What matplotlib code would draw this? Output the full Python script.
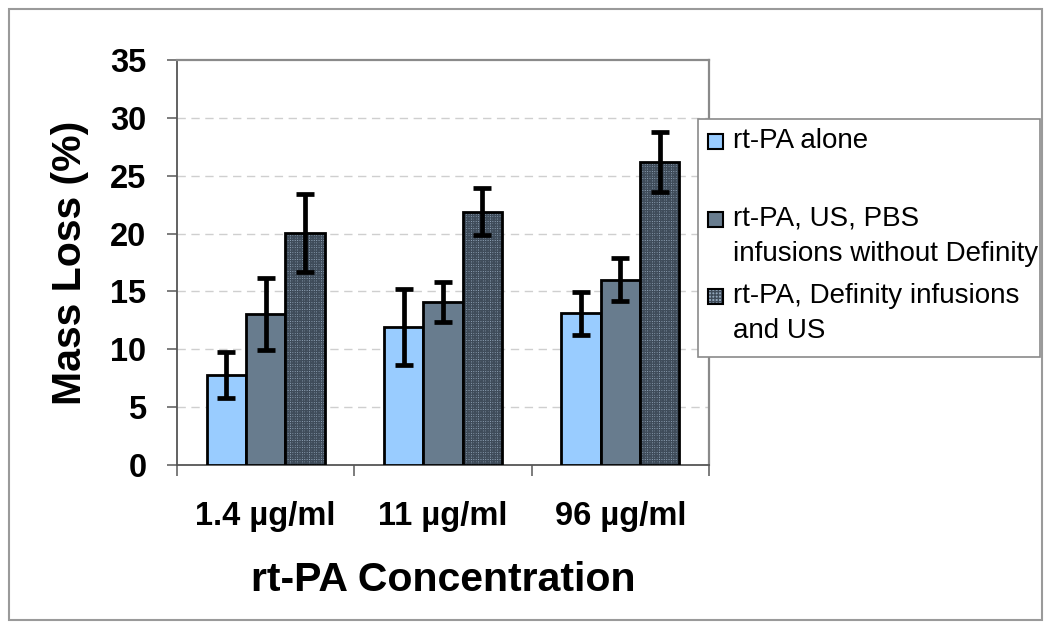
import numpy as np
import matplotlib
matplotlib.use("Agg")
import matplotlib.pyplot as plt
from matplotlib.patches import Rectangle

plt.rcParams['font.family'] = ['Liberation Sans', 'DejaVu Sans']

# --- data ---
concentrations = ["1.4 µg/ml", "11 µg/ml", "96 µg/ml"]
alone = [7.8, 11.9, 13.1]
alone_err = [2.0, 3.3, 1.85]
pbs = [13.05, 14.1, 16.0]
pbs_err = [3.1, 1.7, 1.85]
definity = [20.05, 21.9, 26.2]
definity_err = [3.4, 2.05, 2.6]

series_labels = [["rt-PA alone"],
                 ["rt-PA, US, PBS", "infusions without Definity"],
                 ["rt-PA, Definity infusions", "and US"]]

W, H = 1050, 635
fig = plt.figure(figsize=(W / 100, H / 100), dpi=100)


def fx(px):
    return px / W


def fy(py):
    return 1 - py / H


ax = fig.add_axes([fx(177), fy(465), fx(709) - fx(177), fy(60) - fy(465)])

x = np.arange(len(concentrations))
bw = 1 / 4.5
light = '#99ccff'
dark = '#687c8e'
hatch_face = '#93a7bb'
hatch_ink = '#3f4c5a'

err_kw = dict(ecolor='black', elinewidth=3.4, capsize=6.5, capthick=3.4, zorder=5)

ax.bar(x - bw, alone, bw, color=light, edgecolor='black', linewidth=2, zorder=3)
ax.errorbar(x - bw, alone, yerr=alone_err, fmt='none', **err_kw)

ax.bar(x, pbs, bw, color=dark, edgecolor='black', linewidth=2, zorder=3)
ax.errorbar(x, pbs, yerr=pbs_err, fmt='none', **err_kw)

# hatched bars: pattern layer then a plain black outline on top
ax.bar(x + bw, definity, bw, color=hatch_face, edgecolor=hatch_ink, hatch='+++++++',
       linewidth=0, zorder=3)
ax.bar(x + bw, definity, bw, fill=False, edgecolor='black', linewidth=2, zorder=4)
ax.errorbar(x + bw, definity, yerr=definity_err, fmt='none', **err_kw)

ax.set_xlim(-0.5, len(concentrations) - 0.5)
ax.set_ylim(0, 35)
ax.set_yticks(np.arange(0, 36, 5))
for yv in np.arange(5, 35, 5):
    ax.axhline(yv, color='#cfcfcf', lw=1, ls=(0, (6, 4)), zorder=1)

ax.set_xticks(np.arange(-0.5, len(concentrations), 1))
ax.set_xticklabels([])
ax.set_xticks(x, minor=True)
ax.set_xticklabels(concentrations, minor=True, fontsize=23.5, fontweight='bold')
ax.tick_params(axis='x', which='major', length=8, width=1.2, color='#666666', direction='out')
ax.tick_params(axis='x', which='minor', length=0, pad=26)
ax.tick_params(axis='y', length=7, width=1.2, color='#666666', direction='out', pad=15,
               labelsize=23.5)
for lab in ax.get_yticklabels():
    lab.set_fontweight('bold')

for side in ['left', 'bottom']:
    ax.spines[side].set_color('#555555')
    ax.spines[side].set_linewidth(1.3)
for side in ['top', 'right']:
    ax.spines[side].set_color('#8a8a8a')
    ax.spines[side].set_linewidth(1.6)

ax.set_ylabel("Mass Loss (%)", fontsize=29.5, fontweight='bold', va='center')
ax.yaxis.set_label_coords((70 - 177) / 532, 0.5)
ax.set_xlabel("rt-PA Concentration", fontsize=29.5, fontweight='bold', va='center')
ax.xaxis.set_label_coords(0.5, -(580 - 465) / 405)

# --- legend box drawn by hand so the markers sit on the first line ---
fig.add_artist(Rectangle((fx(698), fy(357)), fx(1040) - fx(698), fy(119) - fy(357),
                         transform=fig.transFigure, facecolor='white',
                         edgecolor='#8a8a8a', linewidth=1.2, zorder=10))
swatches = [dict(facecolor=light, hatch=None),
            dict(facecolor=dark, hatch=None),
            dict(facecolor=hatch_face, hatch='+++++')]
for i, lines in enumerate(series_labels):
    base = 148 + 77.5 * i
    sq = 15
    cy = base - 6.5
    sw = swatches[i]
    fig.add_artist(Rectangle((fx(708), fy(cy + sq / 2)), fx(sq), sq / H,
                             transform=fig.transFigure, facecolor=sw['facecolor'],
                             edgecolor=hatch_ink if sw['hatch'] else sw['facecolor'],
                             hatch=sw['hatch'], linewidth=0, zorder=11))
    fig.add_artist(Rectangle((fx(708), fy(cy + sq / 2)), fx(sq), sq / H,
                             transform=fig.transFigure, fill=False,
                             edgecolor='black', linewidth=1.5, zorder=12))
    for j, line in enumerate(lines):
        fig.text(fx(733), fy(base + 35 * j), line, fontsize=20, va='baseline',
                 ha='left', zorder=12)

# outer frame of the picture
fig.add_artist(Rectangle((fx(9), fy(620)), fx(1042) - fx(9), fy(9) - fy(620),
                         transform=fig.transFigure, fill=False,
                         edgecolor='#9a9a9a', linewidth=1.5, zorder=0))

fig.savefig("out.png", dpi=100)
